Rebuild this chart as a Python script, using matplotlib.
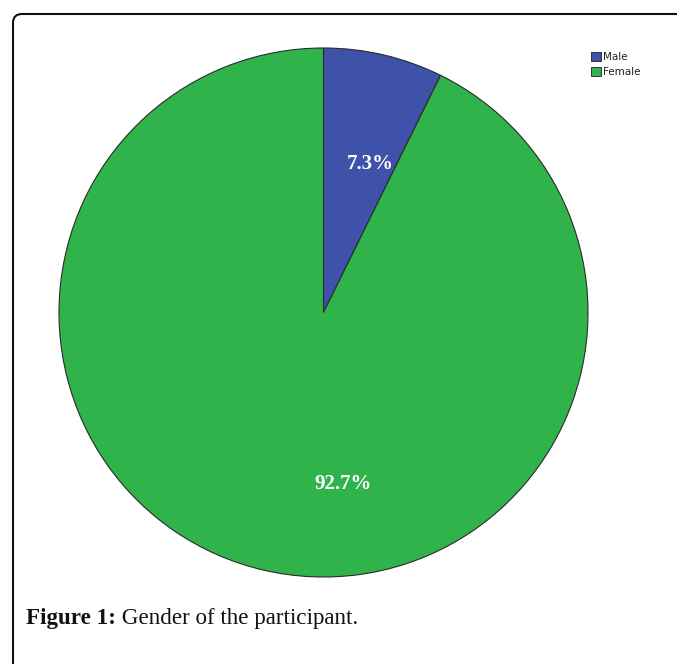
import matplotlib
matplotlib.use("Agg")
import matplotlib.pyplot as plt
from matplotlib.patches import FancyBboxPatch, Rectangle

# Data
categories = ["Male", "Female"]
shares = [7.3, 92.7]
colors = ["#3F52A9", "#2FB34A"]
caption_bold = "Figure 1:"
caption_text = " Gender of the participant."

W, H, DPI = 677, 664, 100
fig = plt.figure(figsize=(W / DPI, H / DPI), dpi=DPI)
fig.patch.set_facecolor("white")

def px_rect(x0, y0, x1, y1):
    """Convert pixel box (top-left origin) to figure fraction [l, b, w, h]."""
    return [x0 / W, 1 - y1 / H, (x1 - x0) / W, (y1 - y0) / H]

# Outer frame: rounded corner at top-left, open at right and bottom
frame = FancyBboxPatch((0.13, -1.0), 8.0, 6.64 - 0.14 + 1.0,
                       boxstyle="round,pad=0,rounding_size=0.09",
                       transform=fig.dpi_scale_trans, fill=False,
                       edgecolor="#111111", linewidth=1.5, clip_on=False)
fig.add_artist(frame)

# Pie chart
ax = fig.add_axes(px_rect(59, 47, 588, 578))
wedges, texts, autotexts = ax.pie(
    shares, colors=colors, startangle=90, counterclock=False,
    radius=1.0, autopct="%1.1f%%", pctdistance=0.6,
    wedgeprops=dict(edgecolor="#2b2b2b", linewidth=0.8),
    textprops=dict(color="white", fontfamily="Liberation Serif",
                   fontweight="bold", fontsize=15))
ax.set_xlim(-1.0, 1.0)
ax.set_ylim(-1.0, 1.0)
ax.set_aspect("equal")
ax.axis("off")

# Place percentage labels
autotexts[0].set_position((0.175, 0.56))
autotexts[1].set_position((0.075, -0.65))

# Legend
lax = fig.add_axes([0, 0, 1, 1], facecolor="none")
lax.set_xlim(0, W)
lax.set_ylim(H, 0)
lax.axis("off")
for i, (name, col) in enumerate(zip(categories, colors)):
    y = 52 + i * 15
    lax.add_patch(Rectangle((591, y), 10, 9, facecolor=col,
                            edgecolor="#222222", linewidth=0.6))
    lax.text(603, y + 5, name, fontsize=7.5, fontfamily="DejaVu Sans",
             va="center", ha="left", color="#222222")

# Caption
t1 = lax.text(26, 624, caption_bold, fontsize=16.6, fontweight="bold",
              fontfamily="Liberation Serif", va="baseline", ha="left",
              color="#111111")
fig.canvas.draw()
bb = t1.get_window_extent()
x_next = bb.x1 / fig.dpi * DPI
lax.text(x_next, 624, caption_text, fontsize=16.6,
         fontfamily="Liberation Serif", va="baseline", ha="left",
         color="#111111")

fig.savefig("out.png", dpi=DPI)
